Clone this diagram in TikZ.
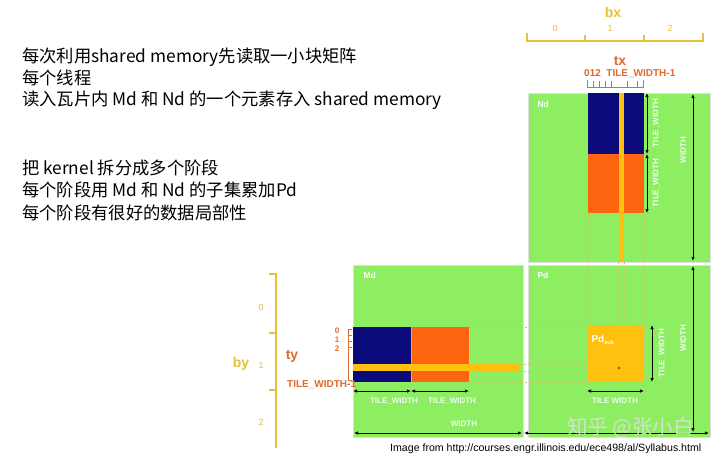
\documentclass[tikz,border=0pt]{standalone}
\usepackage{fontspec}
\setmainfont{Liberation Sans}
\newfontfamily\cjk{Noto Sans CJK SC}
\usetikzlibrary{arrows.meta}
\definecolor{boxgreen}{HTML}{8EEE62}
\definecolor{navy}{HTML}{0A0A7A}
\definecolor{orng}{HTML}{FF6410}
\definecolor{ylw}{HTML}{FFC010}
\definecolor{gold}{HTML}{E8C03A}
\definecolor{tcol}{HTML}{E26A2A}
\definecolor{dashc}{HTML}{C8C860}
\tikzset{
  mat/.style={fill=boxgreen, draw=gray!25, line width=0.6pt},
  matlab/.style={text=white, font=\bfseries\fontsize{8.5}{8.5}\selectfont, anchor=west},
  dim/.style={{Latex[length=4pt,width=3.5pt]}-{Latex[length=4pt,width=3.5pt]}, line width=0.9pt, black},
  dimlab/.style={text=white!92!green, font=\bfseries\fontsize{8}{8}\selectfont},
  axisline/.style={draw=gold, line width=1.2pt},
  axlab/.style={text=gold, font=\fontsize{9}{9}\selectfont},
  bigaxlab/.style={text=gold, font=\bfseries\fontsize{14}{14}\selectfont},
  tline/.style={draw=tcol, line width=1pt},
  tlab/.style={text=tcol, font=\bfseries\fontsize{10}{10}\selectfont},
  tnum/.style={text=tcol, font=\bfseries\fontsize{8}{8}\selectfont, inner sep=0pt},
  cn/.style={font=\cjk\fontsize{17.3}{17.3}\selectfont, anchor=west, inner sep=0pt},
  guide/.style={draw=dashc, dashed, line width=0.5pt, dash pattern=on 2pt off 2pt},
}
\begin{document}
\begin{tikzpicture}[x=1pt,y=-1pt]
\useasboundingbox (0,0) rectangle (720,456);
\fill[white] (0,0) rectangle (720,456);
% text block
\node[cn] (t1) at (22,57) {每次利用shared memory先读取一小块矩阵};
\node[cn] (t2) at (22,78) {每个线程};
\node[cn] (t3) at (22,100) {读入瓦片内 Md 和 Nd 的一个元素存入 shared memory};
\node[cn] (t4) at (22,168) {把 kernel 拆分成多个阶段};
\node[cn] (t5) at (22,190) {每个阶段用 Md 和 Nd 的子集累加Pd};
\node[cn] (t6) at (22,213) {每个阶段有很好的数据局部性};
% matrices
\node[mat, minimum width=182pt, minimum height=169pt, inner sep=0pt, anchor=north west] (Nd) at (528,93) {};
\node[mat, minimum width=170pt, minimum height=172pt, inner sep=0pt, anchor=north west] (Md) at (353,265) {};
\node[mat, minimum width=182pt, minimum height=172pt, inner sep=0pt, anchor=north west] (Pd) at (528,265) {};
% guides
\draw[guide] (588,213) -- (588,382);
\draw[guide] (644,213) -- (644,382);
\draw[guide] (618,262) -- (618,368);
\draw[guide] (624,262) -- (624,368);
\draw[guide] (469,327) -- (587,327);
\draw[guide] (469,382) -- (587,382);
\draw[guide] (520,364) -- (618,364);
\draw[guide] (520,371) -- (618,371);
% Nd tiles
\fill[navy] (588,93) rectangle (644,154);
\fill[orng] (588,154) rectangle (644,213);
\fill[ylw] (618.5,93) rectangle (624,262);
% Md tiles
\fill[navy] (353,327) rectangle (411,382);
\fill[orng] (411,327) rectangle (469,382);
\draw[gray!60, line width=0.5pt] (411,327) -- (411,382);
\fill[ylw] (353,364) rectangle (520,371);
% Pd tile
\node[fill=ylw, minimum width=57pt, minimum height=57pt, inner sep=0pt, anchor=north west] (Pdsub) at (587,325) {};
\node[text=white, font=\bfseries\fontsize{10}{10}\selectfont, anchor=west] (pdl) at (588,340) {Pd\textsubscript{\fontsize{5.5}{5.5}\selectfont sub}};
\fill[tcol!80!black] (619,368) circle (1.6pt);
% matrix labels
\node[matlab] (ndl) at (534,104) {Nd};
\node[matlab] (mdl) at (360,275) {Md};
\node[matlab] (pdl2) at (534,275) {Pd};
% dimension arrows Nd
\coordinate (na1) at (647,93); \coordinate (na2) at (647,154); \coordinate (na3) at (647,213);
\draw[dim] (na1) -- (na2);
\draw[dim] (na2) -- (na3);
\node[dimlab, rotate=90] (ndw1) at (656,123) {TILE\_WIDTH};
\node[dimlab, rotate=90] (ndw2) at (656,183) {TILE\_WIDTH};
\coordinate (nb1) at (693,94); \coordinate (nb2) at (693,261);
\draw[dim] (nb1) -- (nb2);
\node[dimlab, rotate=90] (ndw3) at (683,150) {WIDTH};
% dimension arrows Md
\coordinate (ma1) at (353,391); \coordinate (ma2) at (411,391); \coordinate (ma3) at (469,391);
\draw[dim] (ma1) -- (ma2);
\draw[dim] (ma2) -- (ma3);
\node[dimlab] (mdw1) at (394,401) {TILE\_WIDTH};
\node[dimlab] (mdw2) at (452,401) {TILE\_WIDTH};
\node[dimlab] (mdw3) at (464,424) {WIDTH};
\coordinate (mb1) at (354,433); \coordinate (mb2) at (522,433);
\draw[dim] (mb1) -- (mb2);
% dimension arrows Pd
\coordinate (pa1) at (652,325); \coordinate (pa2) at (652,382);
\draw[dim] (pa1) -- (pa2);
\node[dimlab, rotate=90] (pdw1) at (662,353) {TILE\_WIDTH};
\coordinate (pb1) at (587,391); \coordinate (pb2) at (644,391);
\draw[dim] (pb1) -- (pb2);
\node[dimlab] (pdw2) at (615,401) {TILE WIDTH};
\coordinate (pc1) at (693,266); \coordinate (pc2) at (693,432);
\draw[dim] (pc1) -- (pc2);
\node[dimlab, rotate=90] (pdw3) at (683,338) {WIDTH};
\coordinate (pd1) at (524,433); \coordinate (pd2) at (709,433);
\draw[dim] (pd1) -- (pd2);
% bx axis
\draw[axisline] (527,33) -- (527,41) -- (703,41) -- (703,33);
\draw[axisline] (585,35) -- (585,41);
\draw[axisline] (644,35) -- (644,41);
\node[axlab] (bx0) at (555,28) {0};
\node[axlab] (bx1) at (610,28) {1};
\node[axlab] (bx2) at (670,28) {2};
\node[bigaxlab] (bx) at (613,12) {bx};
% tx
\node[tlab, font=\bfseries\fontsize{14}{14}\selectfont] (tx) at (620,61) {tx};
\node[tlab, anchor=west, inner sep=0pt] (txl) at (584,74) {012\ \ TILE\_WIDTH-1};
\draw[tline] (587,80) -- (587,87) -- (643,87) -- (643,80);
\foreach \x in {593,599,605,611,627,637} \draw[tline] (\x,81) -- (\x,87);
% by axis
\draw[axisline] (269,274) -- (276,274) -- (276,448);
\draw[axisline] (269,333) -- (276,333);
\draw[axisline] (269,390) -- (276,390);
\node[axlab] (by0) at (261,307) {0};
\node[axlab] (by1) at (261,365) {1};
\node[axlab] (by2) at (261,422) {2};
\node[bigaxlab] (by) at (241,364) {by};
% ty
\node[tlab, font=\bfseries\fontsize{14}{14}\selectfont] (ty) at (292,356) {ty};
\node[tlab, anchor=west, inner sep=0pt] (tyl) at (287,385) {TILE\_WIDTH-1};
\draw[tline] (352,329) -- (348,329) -- (348,380) -- (352,380);
\foreach \y in {335,341,347} \draw[tline] (348,\y) -- (352,\y);
\node[tnum] (ty0) at (337,331) {0};
\node[tnum] (ty1) at (337,340) {1};
\node[tnum] (ty2) at (337,349) {2};
% watermark
\node[text=gray!25, opacity=0.85, font=\cjk\fontsize{20.5}{20.5}\selectfont, anchor=west, inner sep=0pt] (wm) at (567,428) {知乎 @张小白};
% caption
\node[font=\fontsize{10.6}{10.6}\selectfont, anchor=west, inner sep=0pt] (cap) at (390,449) {Image from http://courses.engr.illinois.edu/ece498/al/Syllabus.html};
\end{tikzpicture}
\end{document}
